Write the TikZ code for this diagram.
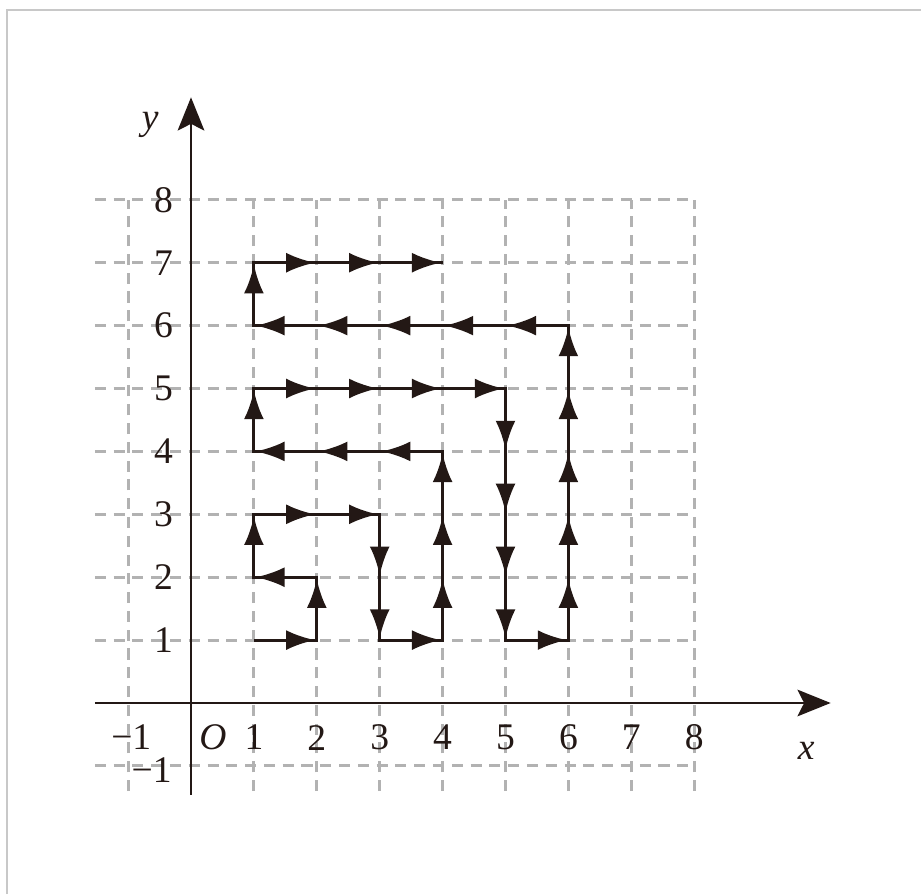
\documentclass[tikz,border=0pt]{standalone}
\usepackage{fontspec}
\setmainfont{Liberation Serif}
\usepackage{xcolor}
\definecolor{ink}{RGB}{35,24,21}
\definecolor{gridgray}{RGB}{178,178,178}
\definecolor{framegray}{RGB}{200,200,200}
\usetikzlibrary{arrows.meta,decorations.markings}

\begin{document}
\begin{tikzpicture}[
  x=1cm, y=1cm,
  gridline/.style={draw=gridgray, line width=1.3pt, dash pattern=on 5pt off 3.5pt},
  axis/.style={draw=ink, line width=1.3pt, -{Stealth[length=15pt,width=12pt,inset=3pt]}},
  walk/.style={draw=ink, line width=1.4pt, line join=miter, postaction={decorate},
    decoration={markings, mark=between positions 0.97cm and -0.01cm step 1cm with {\arrow{Latex[length=13pt,width=9pt]}}}},
  ticklabel/.style={font=\fontsize{17}{20}\selectfont, inner sep=0pt, text=ink}
]
\useasboundingbox (-3.037,-3.037) rectangle (11.606,11.177);
\draw[framegray, line width=1pt] (-2.93,-3.04) |- (11.61,11.02);

% grid
\foreach \k in {-1,1,2,...,8} {
  \draw[gridline] (-1.53,\k) -- (8,\k);
  \draw[gridline] (\k,-1.4) -- (\k,8);
}

% axes
\coordinate (xfrom) at (-1.53,0);
\coordinate (xto) at (10.17,0);
\coordinate (yfrom) at (0,-1.46);
\coordinate (yto) at (0,9.63);
\draw[axis] (xfrom) -- (xto);
\draw[axis] (yfrom) -- (yto);

% labels
\foreach \k in {1,...,8} {
  \node[ticklabel] (xlab\k) at (\k,-0.55) {\k};
  \node[ticklabel, anchor=east] (ylab\k) at (-0.28,\k) {\k};
}
\node[ticklabel] (xlabm) at (-0.95,-0.55) {−1};
\node[ticklabel, anchor=east] (ylabm) at (-0.3,-1.06) {−1};
\node[ticklabel] (orig) at (0.35,-0.54) {\itshape O};
\node[ticklabel] (xname) at (9.78,-0.76) {\itshape x};
\node[ticklabel] (yname) at (-0.65,9.19) {\itshape y};

% the walk
\draw[walk] (1,1) -- (2,1) -- (2,2) -- (1,2) -- (1,3) -- (3,3) -- (3,1) -- (4,1)
  -- (4,4) -- (1,4) -- (1,5) -- (5,5) -- (5,1) -- (6,1) -- (6,6) -- (1,6)
  -- (1,7) -- (4,7);
\end{tikzpicture}
\end{document}
